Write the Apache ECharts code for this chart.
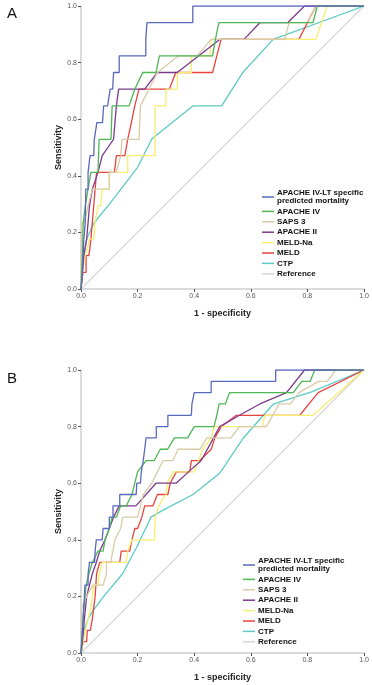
<!DOCTYPE html>
<html lang="en">
<head>
    <meta charset="UTF-8">
    <title>ROC curves</title>
    <script src="https://cdn.jsdelivr.net/npm/echarts@6/dist/echarts.min.js"></script>
    <style>
        body { margin: 0; background: #fff; }
    </style>
</head>
<body>
<div id="main" style="width: 372px;height:685px;"></div>
<script type="text/javascript">
    var names = ['APACHE IV-LT specific predicted mortality', 'APACHE IV', 'SAPS 3', 'APACHE II', 'MELD-Na', 'MELD', 'CTP', 'Reference'];
    var colors = ['#5a68bd', '#4fb655', '#d9cba8', '#7c3a8e', '#f7ee70', '#e8443e', '#5ccac6', '#d6d6d6'];
    var ticks = [0, 0.2, 0.4, 0.6, 0.8, 1.0];

    // panel A (17 positives)
    var apacheLtA = [[0,0],[0.005,0.059],[0.01,0.176],[0.015,0.235],[0.017,0.353],[0.025,0.353],[0.025,0.412],[0.032,0.412],[0.032,0.471],[0.045,0.471],[0.047,0.529],[0.053,0.529],[0.056,0.588],[0.076,0.588],[0.08,0.647],[0.094,0.647],[0.103,0.706],[0.112,0.706],[0.115,0.765],[0.135,0.765],[0.135,0.824],[0.229,0.824],[0.229,0.882],[0.233,0.941],[0.395,0.941],[0.395,1],[1,1]];
    var apache4A = [[0,0],[0.005,0.118],[0.008,0.235],[0.015,0.294],[0.025,0.353],[0.035,0.412],[0.06,0.412],[0.064,0.529],[0.106,0.529],[0.11,0.647],[0.17,0.647],[0.19,0.706],[0.218,0.765],[0.265,0.765],[0.277,0.824],[0.465,0.824],[0.475,0.882],[0.487,0.941],[0.82,0.941],[0.835,1],[1,1]];
    var saps3A = [[0,0],[0.003,0.235],[0.012,0.235],[0.025,0.294],[0.04,0.353],[0.1,0.353],[0.1,0.412],[0.125,0.412],[0.14,0.471],[0.145,0.529],[0.205,0.529],[0.21,0.647],[0.24,0.706],[0.27,0.765],[0.345,0.824],[0.41,0.824],[0.46,0.882],[0.72,0.882],[0.735,0.941],[0.8,0.941],[0.83,1],[1,1]];
    var apache2A = [[0,0],[0.005,0.059],[0.01,0.118],[0.02,0.176],[0.03,0.294],[0.04,0.353],[0.06,0.412],[0.075,0.471],[0.095,0.5],[0.115,0.529],[0.125,0.647],[0.133,0.706],[0.225,0.706],[0.27,0.765],[0.34,0.765],[0.49,0.882],[0.576,0.882],[0.632,0.941],[0.73,0.941],[0.79,1],[1,1]];
    var meldNaA = [[0,0],[0.005,0.059],[0.015,0.118],[0.03,0.176],[0.045,0.176],[0.05,0.235],[0.06,0.294],[0.07,0.294],[0.075,0.353],[0.1,0.353],[0.1,0.412],[0.165,0.412],[0.165,0.471],[0.262,0.471],[0.262,0.647],[0.3,0.647],[0.3,0.706],[0.34,0.706],[0.34,0.765],[0.39,0.765],[0.39,0.824],[0.455,0.824],[0.46,0.882],[0.83,0.882],[0.87,1],[1,1]];
    var meldA = [[0,0],[0.007,0.059],[0.018,0.059],[0.018,0.118],[0.028,0.118],[0.035,0.176],[0.045,0.294],[0.05,0.353],[0.055,0.412],[0.118,0.412],[0.125,0.471],[0.155,0.471],[0.165,0.529],[0.178,0.588],[0.19,0.647],[0.205,0.706],[0.312,0.706],[0.335,0.765],[0.465,0.765],[0.48,0.824],[0.495,0.882],[0.77,0.882],[0.83,1],[1,1]];
    var ctpA = [[0,0],[0.005,0.06],[0.01,0.118],[0.02,0.176],[0.035,0.21],[0.047,0.235],[0.1,0.3],[0.141,0.353],[0.2,0.43],[0.235,0.5],[0.25,0.53],[0.395,0.647],[0.497,0.647],[0.573,0.767],[0.679,0.882],[1,1]];

    // panel B (25 positives)
    var apacheLtB = [[0,0],[0.005,0.08],[0.01,0.16],[0.014,0.24],[0.025,0.24],[0.025,0.28],[0.03,0.28],[0.03,0.32],[0.048,0.32],[0.05,0.36],[0.054,0.4],[0.075,0.4],[0.078,0.44],[0.1,0.44],[0.1,0.48],[0.113,0.48],[0.113,0.52],[0.137,0.52],[0.137,0.56],[0.195,0.56],[0.197,0.6],[0.21,0.6],[0.213,0.64],[0.22,0.68],[0.225,0.72],[0.23,0.76],[0.266,0.76],[0.266,0.8],[0.307,0.8],[0.307,0.84],[0.39,0.84],[0.392,0.88],[0.4,0.92],[0.46,0.92],[0.46,0.96],[0.688,0.96],[0.688,1],[1,1]];
    var apache4B = [[0,0],[0.005,0.08],[0.01,0.16],[0.018,0.24],[0.028,0.28],[0.04,0.32],[0.06,0.36],[0.078,0.36],[0.085,0.4],[0.1,0.44],[0.11,0.48],[0.125,0.48],[0.14,0.52],[0.16,0.52],[0.18,0.56],[0.19,0.6],[0.2,0.64],[0.23,0.68],[0.259,0.68],[0.28,0.72],[0.306,0.72],[0.33,0.76],[0.377,0.76],[0.4,0.8],[0.47,0.8],[0.48,0.84],[0.488,0.88],[0.51,0.88],[0.525,0.92],[0.75,0.92],[0.78,0.96],[0.81,0.96],[0.826,1],[1,1]];
    var saps3B = [[0,0],[0.003,0.16],[0.008,0.16],[0.02,0.2],[0.042,0.24],[0.078,0.24],[0.09,0.28],[0.09,0.32],[0.105,0.32],[0.12,0.4],[0.14,0.44],[0.148,0.48],[0.2,0.48],[0.22,0.56],[0.25,0.6],[0.27,0.64],[0.29,0.68],[0.325,0.68],[0.343,0.72],[0.42,0.72],[0.445,0.76],[0.53,0.76],[0.56,0.8],[0.655,0.8],[0.7,0.88],[0.74,0.88],[0.77,0.92],[0.84,0.96],[0.87,0.96],[0.9,1],[1,1]];
    var apache2B = [[0,0],[0.005,0.04],[0.012,0.12],[0.02,0.2],[0.03,0.24],[0.04,0.28],[0.054,0.32],[0.066,0.36],[0.085,0.4],[0.1,0.44],[0.115,0.48],[0.135,0.52],[0.194,0.52],[0.265,0.6],[0.336,0.6],[0.38,0.64],[0.425,0.68],[0.49,0.8],[0.56,0.84],[0.632,0.88],[0.726,0.92],[0.79,1],[1,1]];
    var meldNaB = [[0,0],[0.008,0.04],[0.015,0.08],[0.025,0.12],[0.035,0.16],[0.04,0.2],[0.045,0.24],[0.06,0.24],[0.065,0.28],[0.075,0.32],[0.16,0.32],[0.165,0.36],[0.18,0.4],[0.26,0.4],[0.262,0.48],[0.275,0.52],[0.3,0.56],[0.305,0.6],[0.325,0.64],[0.4,0.64],[0.43,0.72],[0.46,0.76],[0.47,0.8],[0.64,0.8],[0.65,0.84],[0.82,0.84],[1,1]];
    var meldB = [[0,0],[0.008,0.04],[0.02,0.04],[0.022,0.08],[0.033,0.08],[0.04,0.12],[0.05,0.2],[0.055,0.28],[0.066,0.32],[0.137,0.32],[0.142,0.36],[0.172,0.36],[0.18,0.4],[0.19,0.44],[0.2,0.44],[0.215,0.48],[0.225,0.52],[0.254,0.52],[0.27,0.56],[0.307,0.56],[0.315,0.6],[0.337,0.64],[0.384,0.64],[0.39,0.68],[0.42,0.68],[0.46,0.72],[0.473,0.76],[0.496,0.8],[0.549,0.84],[0.773,0.84],[0.838,0.92],[1,1]];
    var ctpB = [[0,0],[0.01,0.08],[0.025,0.12],[0.041,0.147],[0.08,0.2],[0.147,0.28],[0.2,0.38],[0.247,0.48],[0.3,0.51],[0.396,0.56],[0.49,0.635],[0.573,0.759],[0.679,0.879],[0.815,0.923],[1,1]];

    var reference = [[0,0],[1,1]];

    var panelA = [apacheLtA, apache4A, saps3A, apache2A, meldNaA, meldA, ctpA, reference];
    var panelB = [apacheLtB, apache4B, saps3B, apache2B, meldNaB, meldB, ctpB, reference];

    var font = 'Liberation Sans, Arial, sans-serif';

    function makeX(idx) {
        return {
            type: 'value', gridIndex: idx, min: 0, max: 1, interval: 0.2,
            name: '1 - specificity', nameLocation: 'middle', nameGap: 20,
            nameTextStyle: {fontFamily: font, fontWeight: 'bold', fontSize: 9, color: '#222'},
            axisLine: {lineStyle: {color: '#cfcfcf', width: 1.5}},
            axisTick: {show: true, length: 3, lineStyle: {color: '#555'}},
            axisLabel: {fontFamily: font, fontSize: 7, color: '#555', margin: 4,
                formatter: function (v) { return v.toFixed(1); }},
            splitLine: {show: false}
        };
    }

    function makeY(idx) {
        return {
            type: 'value', gridIndex: idx, min: 0, max: 1, interval: 0.2,
            name: 'Sensitivity', nameLocation: 'middle', nameGap: 18, nameMoveOverlap: false,
            nameTextStyle: {fontFamily: font, fontWeight: 'bold', fontSize: 9, color: '#222'},
            axisLine: {lineStyle: {color: '#cfcfcf', width: 1.5}},
            axisTick: {show: true, length: 3, lineStyle: {color: '#555'}},
            axisLabel: {fontFamily: font, fontSize: 7, color: '#555', margin: 4,
                formatter: function (v) { return v.toFixed(1); }},
            splitLine: {show: false}
        };
    }

    function makeLegend(left, top) {
        return {
            orient: 'vertical', left: left, top: top, padding: 0,
            icon: 'rect', itemWidth: 12, itemHeight: 1.5, itemGap: 2.4,
            selectedMode: false,
            data: names.map(function (n, i) {
                return {name: n, itemStyle: {color: colors[i]}};
            }),
            formatter: function (n) {
                return n === names[0] ? 'APACHE IV-LT specific\npredicted mortality' : n;
            },
            textStyle: {fontFamily: font, fontWeight: 'bold', fontSize: 8, color: '#111', lineHeight: 8, padding: [0, 0, 0, -2]}
        };
    }

    var series = [];
    [panelA, panelB].forEach(function (panel, g) {
        panel.forEach(function (data, i) {
            series.push({
                name: names[i], type: 'line', xAxisIndex: g, yAxisIndex: g,
                data: data, showSymbol: false, symbol: 'none', silent: true,
                lineStyle: {color: colors[i], width: 1.3},
                itemStyle: {color: colors[i]},
                z: 10 - i
            });
        });
    });

    var myChart = echarts.init(document.getElementById('main'));
    myChart.setOption({
        animation: false,
        backgroundColor: '#fff',
        title: [
            {text: 'A', left: 2, top: 1, textStyle: {fontFamily: font, fontWeight: 'normal', fontSize: 15, color: '#111'}},
            {text: 'B', left: 2, top: 366, textStyle: {fontFamily: font, fontWeight: 'normal', fontSize: 15, color: '#111'}}
        ],
        grid: [
            {left: 81, top: 6, width: 283, height: 283},
            {left: 81, top: 370, width: 283, height: 283}
        ],
        xAxis: [makeX(0), makeX(1)],
        yAxis: [makeY(0), makeY(1)],
        legend: [makeLegend(262, 189), makeLegend(243, 557)],
        series: series
    });
</script>
</body>
</html>
